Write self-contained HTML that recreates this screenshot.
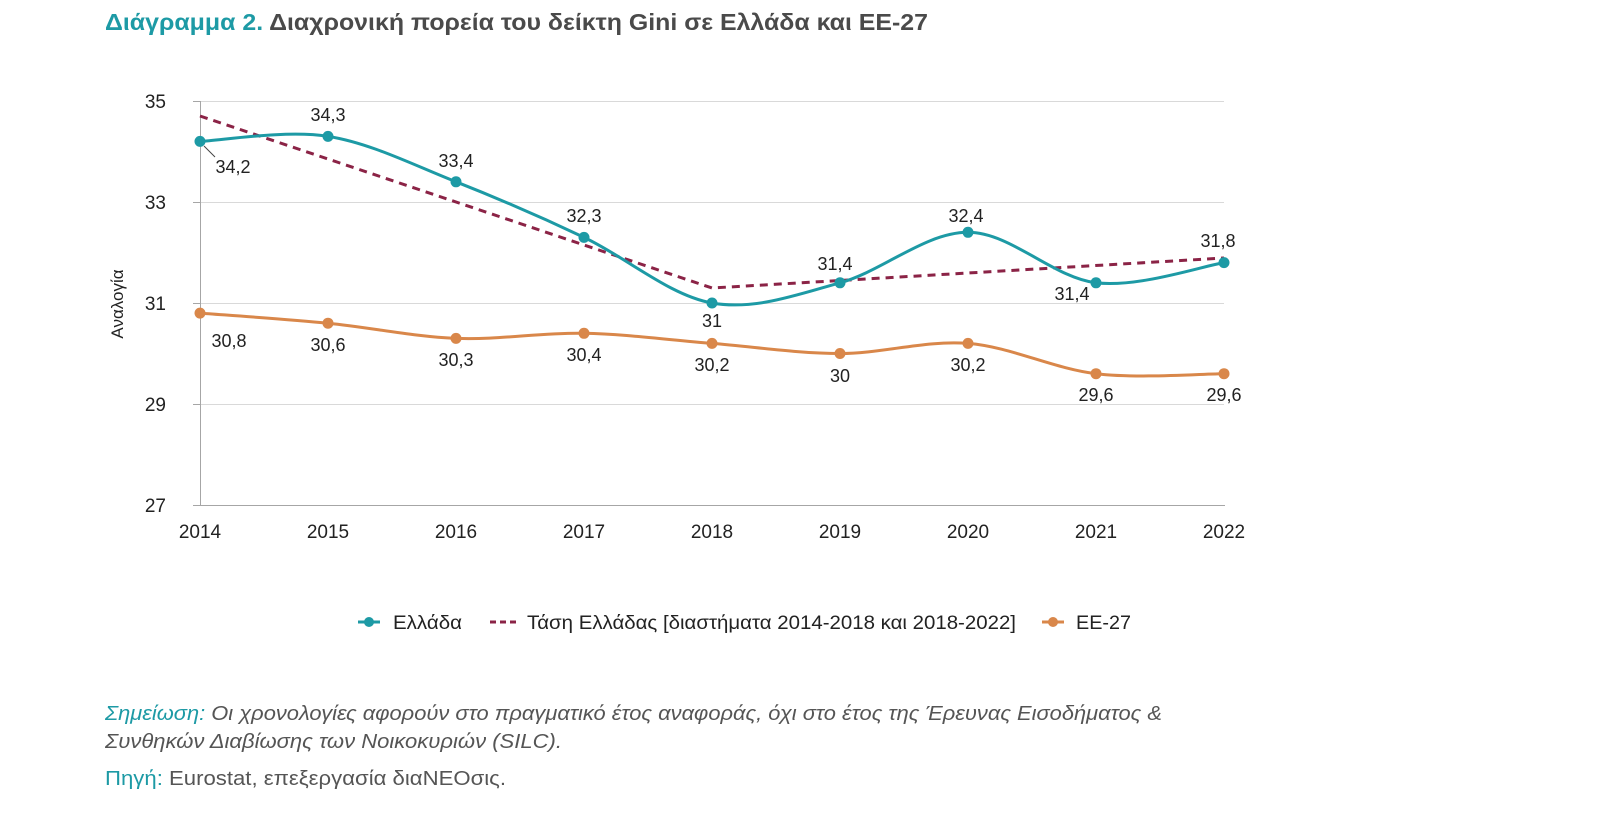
<!DOCTYPE html>
<html><head><meta charset="utf-8"><style>
body{margin:0;background:#fff;width:1599px;height:832px;overflow:hidden;font-family:"Liberation Sans","DejaVu Sans",sans-serif}
</style></head><body>
<svg width="1599" height="832" xmlns="http://www.w3.org/2000/svg" font-family="Liberation Sans, DejaVu Sans, sans-serif">
<text x="105" y="30" font-size="23" font-weight="bold" fill="#1d9aa5" textLength="823" lengthAdjust="spacingAndGlyphs">Διάγραμμα 2. <tspan fill="#4a4a4a">Διαχρονική πορεία του δείκτη Gini σε Ελλάδα και ΕΕ-27</tspan></text>
<g stroke="#d9d9d9" stroke-width="1">
<line x1="200" y1="101.5" x2="1224" y2="101.5"/><line x1="200" y1="202.5" x2="1224" y2="202.5"/>
<line x1="200" y1="303.5" x2="1224" y2="303.5"/><line x1="200" y1="404.5" x2="1224" y2="404.5"/>
</g>
<g stroke="#a6a6a6" stroke-width="1">
<line x1="200.5" y1="101" x2="200.5" y2="505"/><line x1="200" y1="505.5" x2="1225" y2="505.5"/>
<line x1="193" y1="101.5" x2="200" y2="101.5"/><line x1="193" y1="202.5" x2="200" y2="202.5"/><line x1="193" y1="303.5" x2="200" y2="303.5"/><line x1="193" y1="404.5" x2="200" y2="404.5"/><line x1="193" y1="505.5" x2="200" y2="505.5"/>
</g>
<g font-size="19" fill="#222" text-anchor="end">
<text x="166" y="108">35</text><text x="166" y="209">33</text><text x="166" y="310">31</text><text x="166" y="411">29</text><text x="166" y="512">27</text>
</g>
<g font-size="19" fill="#222" text-anchor="middle">
<text x="200" y="538">2014</text><text x="328" y="538">2015</text><text x="456" y="538">2016</text><text x="584" y="538">2017</text><text x="712" y="538">2018</text><text x="840" y="538">2019</text><text x="968" y="538">2020</text><text x="1096" y="538">2021</text><text x="1224" y="538">2022</text>
</g>
<text transform="translate(123,304) rotate(-90)" font-size="17" fill="#222" text-anchor="middle">Αναλογία</text>
<polyline points="200,116 712,288 1224,258" fill="none" stroke="#8b2346" stroke-width="3" stroke-dasharray="8,6"/>
<path id="gr" fill="none" stroke="#1d9aa5" stroke-width="3"/>
<path id="eu" fill="none" stroke="#d9874a" stroke-width="3"/>
<g id="dots"></g>
<line x1="204" y1="146" x2="215" y2="157" stroke="#444" stroke-width="1"/>
<g font-size="18" fill="#222" text-anchor="middle">
<text x="233" y="173">34,2</text><text x="328" y="121">34,3</text><text x="456" y="167">33,4</text><text x="584" y="222">32,3</text><text x="712" y="327">31</text><text x="835" y="270">31,4</text><text x="966" y="222">32,4</text><text x="1072" y="300">31,4</text><text x="1218" y="247">31,8</text>
<text x="229" y="347">30,8</text><text x="328" y="351">30,6</text><text x="456" y="366">30,3</text><text x="584" y="361">30,4</text><text x="712" y="371">30,2</text><text x="840" y="382">30</text><text x="968" y="371">30,2</text><text x="1096" y="401">29,6</text><text x="1224" y="401">29,6</text>
</g>
<g font-size="19" fill="#222">
<line x1="358" y1="622" x2="380" y2="622" stroke="#1d9aa5" stroke-width="3"/><circle cx="369" cy="622" r="5" fill="#1d9aa5"/>
<text x="393" y="629" textLength="69" lengthAdjust="spacingAndGlyphs">Ελλάδα</text>
<line x1="490" y1="622" x2="518" y2="622" stroke="#8b2346" stroke-width="3" stroke-dasharray="6,4"/>
<text x="527" y="629" textLength="489" lengthAdjust="spacingAndGlyphs">Τάση Ελλάδας [διαστήματα 2014-2018 και 2018-2022]</text>
<line x1="1042" y1="622" x2="1064" y2="622" stroke="#d9874a" stroke-width="3"/><circle cx="1053" cy="622" r="5" fill="#d9874a"/>
<text x="1076" y="629" textLength="55" lengthAdjust="spacingAndGlyphs">ΕΕ-27</text>
</g>
<g font-size="20" font-style="italic" fill="#555">
<text x="105" y="720" textLength="1057" lengthAdjust="spacingAndGlyphs"><tspan fill="#1d9aa5">Σημείωση:</tspan> Οι χρονολογίες αφορούν στο πραγματικό έτος αναφοράς, όχι στο έτος της Έρευνας Εισοδήματος &amp;</text>
<text x="105" y="748" textLength="457" lengthAdjust="spacingAndGlyphs">Συνθηκών Διαβίωσης των Νοικοκυριών (SILC).</text>
</g>
<text x="105" y="785" font-size="20" fill="#555" textLength="401" lengthAdjust="spacingAndGlyphs"><tspan fill="#1d9aa5">Πηγή:</tspan> Eurostat, επεξεργασία διαΝΕΟσις.</text>
</svg>
<script>
function y(v){return 101+(35-v)*50.5}
function path(vals){var p=vals.map(function(v,i){return [200+128*i,y(v)]});var d="M"+p[0];
for(var i=0;i<p.length-1;i++){var p0=p[i-1]||p[i],p1=p[i],p2=p[i+1],p3=p[i+2]||p2,t=6;
d+=" C"+(p1[0]+(p2[0]-p0[0])/t)+","+(p1[1]+(p2[1]-p0[1])/t)+" "+(p2[0]-(p3[0]-p1[0])/t)+","+(p2[1]-(p3[1]-p1[1])/t)+" "+p2;}return [d,p]}
var g=[34.2,34.3,33.4,32.3,31,31.4,32.4,31.4,31.8],e=[30.8,30.6,30.3,30.4,30.2,30,30.2,29.6,29.6];
var a=path(g),b=path(e);document.getElementById('gr').setAttribute('d',a[0]);document.getElementById('eu').setAttribute('d',b[0]);
var s="";a[1].forEach(function(p){s+='<circle cx="'+p[0]+'" cy="'+p[1]+'" r="5.5" fill="#1d9aa5"/>'});
b[1].forEach(function(p){s+='<circle cx="'+p[0]+'" cy="'+p[1]+'" r="5.5" fill="#d9874a"/>'});
document.getElementById('dots').innerHTML=s;
</script>
</body></html>
